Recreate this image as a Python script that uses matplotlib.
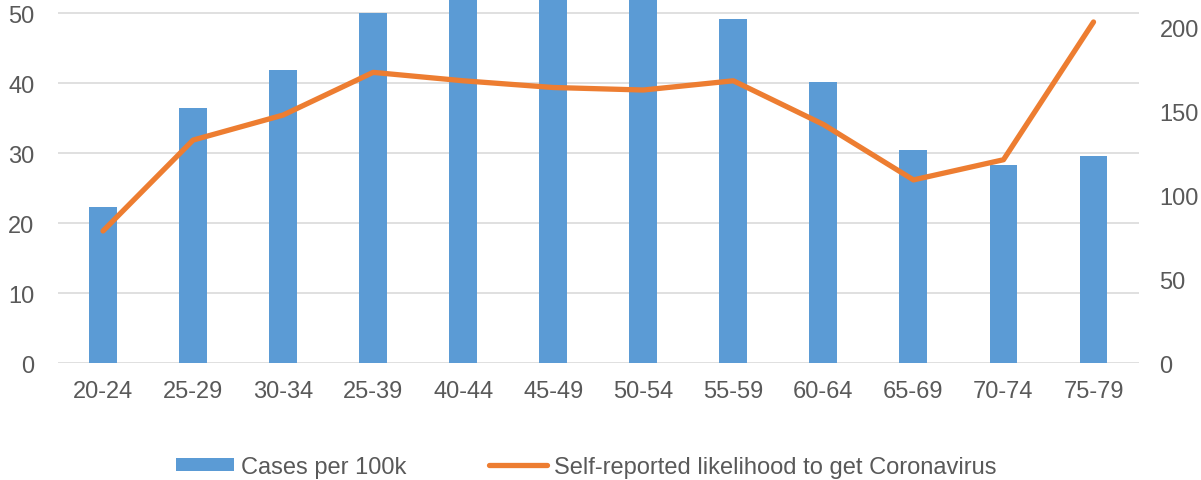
import numpy as np
import matplotlib.pyplot as plt

plt.rcParams['font.family'] = ['Liberation Sans', 'DejaVu Sans']

age_groups = ['20-24', '25-29', '30-34', '25-39', '40-44', '45-49',
              '50-54', '55-59', '60-64', '65-69', '70-74', '75-79']
cases_per_100k = [22.3, 36.4, 41.9, 50.0, 56.0, 58.0, 57.0, 49.1, 40.1, 30.4, 28.3, 29.6]
likelihood = [78.6, 132.7, 147.6, 173.0, 168.0, 164.0, 162.5, 168.0, 142.0, 109.0, 121.0, 203.0]

blue = '#5B9BD5'
orange = '#ED7D31'
grey_txt = '#595959'

fig = plt.figure(figsize=(12.01, 4.81), dpi=100)
ax = fig.add_axes([0.0483, 0.2432, 0.8997, 0.8732])
ax2 = ax.twinx()

x = np.arange(len(age_groups))
ax.bar(x, cases_per_100k, width=0.31, color=blue, label='Cases per 100k', zorder=2)
ax2.plot(x, likelihood, color=orange, lw=3.8, solid_capstyle='round',
         label='Self-reported likelihood to get Coronavirus', zorder=3)

ax.set_xlim(-0.5, len(age_groups) - 0.5)
ax.set_ylim(0, 60)
ax2.set_ylim(0, 250)
ax.set_yticks(range(0, 60, 10))
ax2.set_yticks(range(0, 250, 50))
ax.set_xticks(x, age_groups)

# light horizontal gridlines, no frame
ax.yaxis.grid(True, color='#DDDDDD', lw=1.3, zorder=0)
ax.set_axisbelow(True)
for a in (ax, ax2):
    for s in a.spines.values():
        s.set_visible(False)
    a.tick_params(length=0, labelsize=17, labelcolor=grey_txt)
ax.tick_params(axis='y', pad=17)
ax.tick_params(axis='x', pad=12)
ax2.tick_params(axis='y', pad=15)

h1, l1 = ax.get_legend_handles_labels()
h2, l2 = ax2.get_legend_handles_labels()
fig.legend(h1 + h2, l1 + l2, loc='lower center', bbox_to_anchor=(0.488, -0.04),
           ncol=2, frameon=False, fontsize=17, labelcolor=grey_txt,
           handlelength=2.45, handleheight=0.5, handletextpad=0.3, columnspacing=3.5)

fig.savefig('out.png', dpi=100)
